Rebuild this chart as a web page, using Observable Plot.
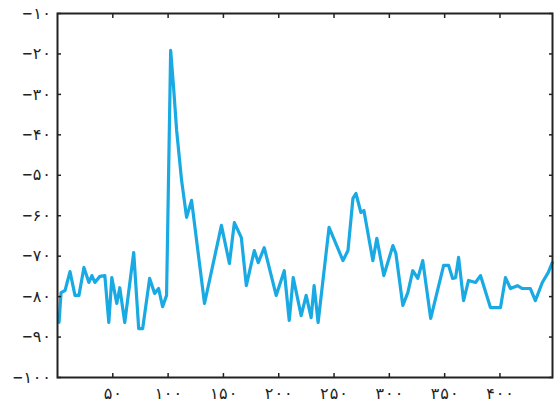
<!DOCTYPE html>
<html>
<head>
<meta charset="utf-8">
<script src="https://cdn.jsdelivr.net/npm/d3@7"></script>
<script src="https://cdn.jsdelivr.net/npm/@observablehq/plot@0.6"></script>
<style>
  html, body { margin: 0; padding: 0; background: #fff; }
  svg { display: block; }
</style>
</head>
<body>
<div id="chart"></div>
<script>
const xs = [1.4,3.2,6.8,11.3,15.8,19.4,23.9,28.4,31.1,33.8,38.3,42.8,46.4,49.1,53.6,56.3,60.8,68.9,73.4,77.0,83.3,87.8,91.4,95.0,98.6,102.3,105.0,107.7,112.2,116.7,121.2,132.9,148.2,155.4,159.9,166.2,170.7,177.9,181.5,186.9,197.7,205.0,209.5,213.1,220.3,224.8,229.3,232.0,235.6,245.5,258.1,262.6,267.1,269.8,274.3,277.0,285.1,288.7,295.0,303.2,305.9,312.2,316.7,321.2,325.7,330.2,337.4,349.1,353.6,357.2,359.9,362.6,367.1,371.6,377.9,382.4,391.4,400.5,405.0,409.5,415.8,420.3,427.5,432.0,438.3,443.7,447.3];
const ys = [-86.4,-79.0,-78.5,-73.8,-79.7,-79.7,-72.8,-76.5,-74.8,-76.5,-75.0,-74.8,-86.4,-75.3,-81.7,-77.8,-86.4,-69.1,-87.9,-87.9,-75.5,-79.2,-78.0,-82.5,-79.7,-19.1,-28.5,-38.9,-51.3,-60.4,-56.2,-81.7,-62.4,-71.8,-61.7,-65.4,-77.3,-68.6,-71.6,-67.9,-79.7,-73.6,-85.9,-75.3,-84.7,-79.7,-85.2,-77.3,-86.4,-62.9,-71.1,-68.6,-55.7,-54.5,-59.2,-58.7,-71.1,-65.6,-74.8,-67.4,-69.3,-82.2,-79.0,-73.6,-75.5,-71.1,-85.4,-72.3,-72.3,-75.5,-75.3,-70.3,-81.0,-76.0,-76.5,-74.8,-82.7,-82.7,-75.3,-78.0,-77.3,-78.0,-78.0,-81.0,-76.5,-74.0,-71.6];

const xTicks = [50, 100, 150, 200, 250, 300, 350, 400];
const xTickLabels = ["۵۰", "۱۰۰", "۱۵۰", "۲۰۰", "۲۵۰", "۳۰۰", "۳۵۰", "۴۰۰"];
const yTicks = [-10, -20, -30, -40, -50, -60, -70, -80, -90, -100];
const yTickLabels = ["−۱۰", "−۲۰", "−۳۰", "−۴۰", "−۵۰", "−۶۰", "−۷۰", "−۸۰", "−۹۰", "−۱۰۰"];

const data = xs.map((x, i) => ({x, y: ys[i]}));
const xFmt = d => xTickLabels[xTicks.indexOf(d)];
const yFmt = d => yTickLabels[yTicks.indexOf(d)];

const chart = Plot.plot({
  width: 554,
  height: 408,
  marginLeft: 57,
  marginRight: 2,
  marginTop: 13,
  marginBottom: 31,
  style: {fontFamily: "'DejaVu Sans Mono', 'DejaVu Sans', monospace", fontSize: "16px", color: "#222", background: "#fff"},
  x: {domain: [0, 447.5]},
  y: {domain: [-100, -10]},
  marks: [
    Plot.line(data, {x: "x", y: "y", stroke: "#19aae4", strokeWidth: 3.2, strokeLinejoin: "round"}),
    Plot.axisX({anchor: "bottom", ticks: xTicks, tickSize: 0, tickPadding: 10, tickFormat: xFmt, label: null, fontSize: 16}),
    Plot.axisY({anchor: "left", ticks: yTicks, tickSize: 0, tickPadding: 6, tickFormat: yFmt, label: null, fontSize: 16}),
    Plot.axisX({anchor: "bottom", ticks: xTicks, tickSize: -4, tickFormat: () => "", label: null, stroke: "#222", strokeWidth: 1.5}),
    Plot.axisX({anchor: "top", ticks: xTicks, tickSize: -4, tickFormat: () => "", label: null, stroke: "#222", strokeWidth: 1.5}),
    Plot.axisY({anchor: "left", ticks: yTicks, tickSize: -4, tickFormat: () => "", label: null, stroke: "#222", strokeWidth: 1.5}),
    Plot.axisY({anchor: "right", ticks: yTicks, tickSize: -4, tickFormat: () => "", label: null, stroke: "#222", strokeWidth: 1.5}),
    Plot.frame({stroke: "#222", strokeWidth: 2})
  ]
});
document.getElementById("chart").appendChild(chart);
</script>
</body>
</html>
